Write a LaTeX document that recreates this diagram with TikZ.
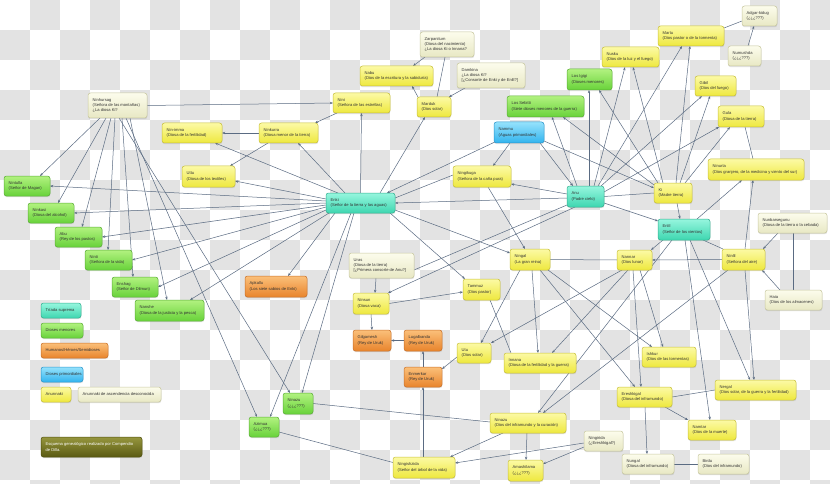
\documentclass[tikz,border=0pt]{standalone}
\usepackage{fontspec}
\setmainfont{Liberation Sans}
\usetikzlibrary{arrows.meta,shadows}
\definecolor{edgec}{HTML}{5A6B82}
\definecolor{txtc}{HTML}{333333}
\definecolor{checkc}{HTML}{E3E3E3}
\pgfdeclarelayer{bg}\pgfdeclarelayer{edges}
\pgfsetlayers{bg,edges,main}
\newcommand\mybox[7]{%
  \pgfmathsetmacro\bw{#5-#3}\pgfmathsetmacro\bh{#6-#4}%
  \node[#2, minimum width=\bw pt, minimum height=\bh pt, anchor=north west] (#1) at (#3,#4) {};
  \node[txt, anchor=west] (#1-t) at ([xshift=4.5pt]#1.west) {#7};}
\begin{document}
\begin{tikzpicture}[x=1pt,y=-1pt,
  gbox/.style={inner sep=0pt, outer sep=0pt, rounded corners=2.5pt, line width=0.5pt,
     drop shadow={opacity=0.22, shadow xshift=0.3pt, shadow yshift=-1.2pt}},
  yel/.style={gbox, draw={rgb,255:red,200;green,192;blue,60}, top color={rgb,255:red,252;green,250;blue,165}, bottom color={rgb,255:red,238;green,232;blue,62}},
  unk/.style={gbox, draw={rgb,255:red,200;green,200;blue,160}, top color={rgb,255:red,252;green,252;blue,236}, bottom color={rgb,255:red,232;green,232;blue,196}},
  grn/.style={gbox, draw={rgb,255:red,92;green,174;blue,56}, top color={rgb,255:red,178;green,242;blue,128}, bottom color={rgb,255:red,104;green,210;blue,58}},
  sup/.style={gbox, draw={rgb,255:red,52;green,176;blue,144}, top color={rgb,255:red,150;green,246;blue,222}, bottom color={rgb,255:red,62;green,214;blue,176}},
  pri/.style={gbox, draw={rgb,255:red,43;green,150;blue,204}, top color={rgb,255:red,150;green,226;blue,252}, bottom color={rgb,255:red,50;green,180;blue,238}},
  hum/.style={gbox, draw={rgb,255:red,200;green,112;blue,42}, top color={rgb,255:red,251;green,192;blue,122}, bottom color={rgb,255:red,232;green,132;blue,44}},
  oli/.style={gbox, draw={rgb,255:red,80;green,80;blue,16}, top color={rgb,255:red,150;green,150;blue,62}, bottom color={rgb,255:red,90;green,90;blue,18}},
  txt/.style={inner sep=0pt, align=left, text=txtc, font=\fontsize{4.1}{5.3}\selectfont},
  arr/.style={draw=edgec, line width=0.5pt, -{Stealth[length=3.2pt,width=2.4pt]}},
  ln/.style={draw=edgec, line width=0.5pt}]
\useasboundingbox (0,0) rectangle (830,484);
\begin{pgfonlayer}{bg}
\fill[white] (0,0) rectangle (830,484);
\clip (0,0) rectangle (830,484);
\foreach \j in {0,2,...,16}{\foreach \i in {1,3,...,27}{\fill[checkc] (\i*30,\j*30) rectangle ++(30,30);}}
\foreach \j in {1,3,...,15}{\foreach \i in {0,2,...,26}{\fill[checkc] (\i*30,\j*30) rectangle ++(30,30);}}
\end{pgfonlayer}
% ---------- nodes ----------
\mybox{ninhursag}{unk}{88}{93}{147}{118}{Ninhursag\\(Señora de las montañas)\\¿La diosa Ki?}
\mybox{nini}{yel}{333}{93}{390}{113}{Nini\\(Señora de las estrellas)}
\mybox{nabu}{yel}{360}{66}{433}{86}{Nabu\\(Dios de la escritura y la sabiduría)}
\mybox{ninimma}{yel}{162}{123}{222}{143}{Nin-imma\\(Diosa de la fertilidad)}
\mybox{ninkurra}{yel}{259}{123}{318}{143}{Ninkurra\\(Diosa menor de la tierra)}
\mybox{zarpanitum}{unk}{420}{32}{474}{57}{Zarpanitum\\(Diosa del nacimiento)\\¿La diosa Ki o Innana?}
\mybox{damkina}{unk}{457}{63}{525}{88}{Damkina\\¿La diosa Ki?\\{[}¿Consorte de Enki y de Enlil?{]}}
\mybox{marduk}{yel}{417}{97}{451}{117}{Marduk\\(Dios solar)}
\mybox{igigi}{grn}{567}{69}{612}{90}{Los Igigi\\(Dioses menores)}
\mybox{sebitti}{grn}{507}{96}{584}{117}{Los Sebitti\\(Siete dioses menores de la guerra)}
\mybox{nammu}{pri}{494}{122}{544}{143}{Nammu\\(Aguas primordiales)}
\mybox{nusku}{yel}{602}{47}{659}{67}{Nusku\\(Dios de la luz y el fuego)}
\mybox{martu}{yel}{658}{26}{724}{46}{Martu\\(Dios pastor o de la tormenta)}
\mybox{adgar}{unk}{742}{6}{777}{26}{Adgar-kidug\\(¿¿¿???)}
\mybox{numushda}{unk}{728}{46}{761}{66}{Numushda\\(¿¿¿???)}
\mybox{gibil}{yel}{695}{76}{736}{96}{Gibil\\(Dios del fuego)}
\mybox{gula}{yel}{718}{106}{764}{127}{Gula\\(Diosa de la tierra)}
\mybox{ninurta}{yel}{708}{159}{804}{180}{Ninurta\\(Dios granjero, de la medicina y viento del sur)}
\mybox{ki}{yel}{654}{183}{692}{203}{Ki\\(Madre tierra)}
\mybox{enlil}{sup}{658}{219}{710}{240}{Enlil\\(Señor de los vientos)}
\mybox{nunbar}{unk}{758}{213}{827}{233}{Nunbarsegunu\\(Diosa de la tierra o la cebada)}
\mybox{ninlil}{yel}{722}{249}{765}{270}{Ninlil\\(Señora del aire)}
\mybox{nannar}{yel}{617}{250}{652}{270}{Nannar\\(Dios lunar)}
\mybox{haia}{unk}{765}{290}{822}{310}{Haia\\(Dios de los almacenes)}
\mybox{anu}{sup}{567}{186}{604}{207}{Anu\\(Padre cielo)}
\mybox{ningikuga}{yel}{453}{166}{511}{187}{Ningikuga\\(Señora de la caña pura)}
\mybox{ningal}{yel}{510}{249}{550}{270}{Ningal\\(La gran reina)}
\mybox{tammuz}{yel}{463}{279}{500}{300}{Tammuz\\(Dios pastor)}
\mybox{enki}{sup}{326}{193}{395}{213}{Enki\\(Señor de la tierra y las aguas)}
\mybox{uttu}{yel}{182}{166}{235}{187}{Uttu\\(Diosa de los textiles)}
\mybox{apkallu}{hum}{245}{276}{307}{297}{Apkallu\\(Los siete sabios de Enki)}
\mybox{uras}{unk}{349}{253}{414}{278}{Uras\\(Diosa de la tierra)\\{[}¿Primera consorte de Anu?{]}}
\mybox{ninsun}{yel}{353}{293}{389}{314}{Ninsun\\(Diosa vaca)}
\mybox{gilgamesh}{hum}{353}{330}{391}{351}{Gilgamesh\\(Rey de Uruk)}
\mybox{lugalbanda}{hum}{404}{330}{442}{351}{Lugalbanda\\(Rey de Uruk)}
\mybox{enmerkar}{hum}{404}{367}{442}{387}{Enmerkar\\(Rey de Uruk)}
\mybox{utu}{yel}{457}{343}{491}{363}{Utu\\(Dios solar)}
\mybox{inanna}{yel}{504}{353}{576}{373}{Innana\\(Diosa de la fertilidad y la guerra)}
\mybox{ninazu}{yel}{490}{413}{566}{433}{Ninazu\\(Dios del inframundo y la curación)}
\mybox{ningishzida}{yel}{393}{457}{455}{478}{Ningishzida\\(Señor del árbol de la vida)}
\mybox{amashilama}{yel}{508}{460}{543}{481}{Amashilama\\(¿¿¿???)}
\mybox{ningirida}{unk}{584}{431}{623}{451}{Ningirida\\(¿Ereshkigal?)}
\mybox{ninazug}{grn}{283}{393}{313}{414}{Ninazu\\(¿¿¿???)}
\mybox{azimua}{grn}{249}{417}{279}{437}{Azimua\\(¿¿¿???)}
\mybox{ereshkigal}{yel}{617}{387}{672}{407}{Ereshkigal\\(Diosa del inframundo)}
\mybox{ishkur}{yel}{642}{347}{696}{367}{Ishkur\\(Dios de las tormentas)}
\mybox{nergal}{yel}{715}{380}{796}{400}{Nergal\\(Dios solar, de la guerra y la fertilidad)}
\mybox{namtar}{yel}{688}{420}{736}{440}{Namtar\\(Dios de la muerte)}
\mybox{nungal}{unk}{622}{454}{674}{474}{Nungal\\(Diosa del inframundo)}
\mybox{birdu}{unk}{698}{454}{749}{474}{Birdu\\(Dios del inframundo)}
\mybox{nintulla}{grn}{4}{176}{50}{196}{Nintulla\\(Señor de Magan)}
\mybox{ninkasi}{grn}{28}{203}{74}{223}{Ninkasi\\(Diosa del alcohol)}
\mybox{abu}{grn}{55}{227}{102}{247}{Abu\\(Rey de los pastos)}
\mybox{ninti}{grn}{85}{250}{132}{270}{Ninti\\(Señora de la vida)}
\mybox{enshag}{grn}{112}{277}{158}{297}{Enshag\\(Señor de Dilmun)}
\mybox{nanshe}{grn}{135}{300}{204}{321}{Nanshe\\(Diosa de la justicia y la pesca)}
% legend
\mybox{lgsup}{sup}{41}{303}{81}{318}{Tríada suprema}
\mybox{lggrn}{grn}{41}{323}{83}{338}{Dioses menores}
\mybox{lghum}{hum}{41}{343}{108}{358}{Humanos/Héroes/Semidioses}
\mybox{lgpri}{pri}{41}{367}{83}{382}{Dioses primordiales}
\mybox{lgyel}{yel}{41}{387}{71}{402}{Anunnaki}
\mybox{lgunk}{unk}{78}{387}{161}{402}{Anunnaki de ascendencia desconocida}
\mybox{credits}{oli}{41}{437}{142}{457}{\textcolor{white}{Esquema genealógico realizado por Compendio}\\\textcolor{white}{de Dilla.}}
% ---------- edges ----------
\begin{pgfonlayer}{edges}
\draw[arr] (ninhursag.east) -- (nini.west);
\draw[arr] ([xshift=4pt]nini.south west) -- ([xshift=-3pt]ninkurra.north east);
\draw[arr] (enki.north) -- (nini.south);
\draw[arr] ([xshift=19pt]enki.north west) -- ([xshift=39pt]ninkurra.south west);
\draw[arr] ([xshift=12pt]enki.north west) -- ([xshift=-7pt]ninimma.south east);
\draw[arr] (ninkurra.west) -- (ninimma.east);
\draw[arr] ([xshift=9pt]ninkurra.south west) -- ([xshift=-5pt]uttu.north east);
\draw[arr] ([yshift=4pt]enki.west) -- ([yshift=-4.5pt]uttu.east);
\draw[arr] ([yshift=2pt]enki.west) -- (nintulla.east);
\draw[arr] (enki.west) -- (ninkasi.east);
\draw[arr] ([yshift=-2pt]enki.west) -- (abu.east);
\draw[arr] ([yshift=-4pt]enki.west) -- (ninti.east);
\draw[arr] ([yshift=-7pt]enki.west) -- (enshag.east);
\draw[arr] ([xshift=3pt]enki.south west) -- ([xshift=-14pt]nanshe.north east);
\draw[arr] ([xshift=12pt]ninhursag.south west) -- ([xshift=36pt]nintulla.north west);
\draw[arr] ([xshift=18pt]ninhursag.south west) -- ([xshift=30pt]ninkasi.north west);
\draw[arr] ([xshift=23pt]ninhursag.south west) -- ([xshift=27pt]abu.north west);
\draw[arr] ([xshift=27pt]ninhursag.south west) -- ([xshift=23pt]ninti.north west);
\draw[arr] ([xshift=31pt]ninhursag.south west) -- ([xshift=7pt]ninazug.north west);
\draw[arr] ([xshift=34pt]ninhursag.south west) -- ([xshift=21pt]enshag.north west);
\draw[arr] ([xshift=38pt]ninhursag.south west) -- ([xshift=8pt]azimua.north west);
\draw[arr] ([xshift=42pt]ninhursag.south west) -- ([xshift=32pt]nanshe.north west);
\draw[arr] ([xshift=25pt]enki.south west) -- ([xshift=21pt]azimua.north west);
\draw[arr] ([xshift=28pt]enki.south west) -- ([xshift=19pt]ninazug.north west);
\draw[arr] ([xshift=9pt]enki.south west) -- ([xshift=43pt]apkallu.north west);
\draw[arr] ([xshift=-15pt]enki.north east) -- ([xshift=8pt]marduk.south west);
\draw[arr] ([xshift=5pt]zarpanitum.south west) -- ([xshift=-20pt]nabu.north east);
\draw[ln] ([xshift=25pt]zarpanitum.south west) -- ([xshift=20pt]marduk.north west);
\draw[arr] ([xshift=8pt]damkina.south west) -- ([xshift=-2pt]marduk.north east);
\draw[arr] ([xshift=1pt]marduk.north west) -- ([xshift=-21pt]nabu.south east);
\draw[ln] ([yshift=-2pt]martu.north east) -- ([yshift=-5pt]adgar.west);
\draw[arr] ([xshift=20pt]numushda.north west) -- ([xshift=12pt]adgar.south west);
\draw[ln] ([xshift=27pt]gula.south west) -- ([xshift=45pt]ninurta.north west);
\draw[arr] ([xshift=22pt]anu.north west) -- ([xshift=22pt]igigi.south west);
\draw[arr] ([xshift=4pt]ki.north west) -- ([xshift=32pt]igigi.south west);
\draw[arr] ([xshift=10pt]anu.north west) -- ([xshift=45pt]sebitti.south west);
\draw[arr] ([yshift=-2pt]ki.north west) -- ([xshift=56pt]sebitti.south west);
\draw[arr] ([xshift=27pt]anu.north west) -- ([xshift=23pt]nusku.south west);
\draw[arr] ([xshift=9pt]ki.north west) -- ([xshift=31pt]nusku.south west);
\draw[arr] ([xshift=31pt]anu.north west) -- ([xshift=24pt]martu.south west);
\draw[arr] ([xshift=22pt]ki.north west) -- ([xshift=32pt]martu.south west);
\draw[arr] ([xshift=-3pt]anu.north east) -- ([xshift=7pt]gibil.south west);
\draw[arr] ([xshift=26pt]ki.north west) -- ([xshift=15pt]gibil.south west);
\draw[arr] ([yshift=-6pt]anu.north east) -- ([xshift=1pt]gula.south west);
\draw[arr] ([xshift=31pt]ki.north west) -- ([xshift=12pt]gula.south west);
\draw[arr] ([xshift=-4pt]nammu.south east) -- ([xshift=6pt]anu.north west);
\draw[arr] ([yshift=2pt]nammu.south east) -- ([yshift=-5pt]ki.north west);
\draw[arr] ([xshift=3pt,yshift=2pt]nammu.south west) -- ([xshift=-8pt]enki.north east);
\draw[arr] ([xshift=16pt]nammu.south west) -- ([xshift=40pt]ningikuga.north west);
\draw[arr] ([yshift=-8pt]anu.north west) -- ([yshift=3pt]ningikuga.south east);
\draw[ln] ([yshift=-5pt]enki.north east) -- ([yshift=-9pt]ningikuga.north west);
\draw[arr] ([yshift=-12pt]anu.north west) -- (enki.east);
\draw[ln] (anu.east) -- (ki.west);
\draw[arr] ([yshift=4pt]anu.south east) -- ([yshift=-2pt]enlil.north west);
\draw[arr] ([xshift=23pt]ki.south west) -- ([xshift=22pt]enlil.north west);
\draw[arr] ([yshift=3pt]enki.south east) -- ([yshift=-4pt]ningal.north west);
\draw[arr] ([xshift=35pt]ningikuga.south west) -- ([xshift=15pt]ningal.north west);
\draw[arr] ([xshift=-5pt]enki.south east) -- ([xshift=2pt]tammuz.north west);
\draw[ln] (ningal.east) -- (nannar.west);
\draw[arr] (ninlil.west) -- (nannar.east);
\draw[arr] ([xshift=5pt]enlil.south west) -- ([xshift=-1pt]nannar.north east);
\draw[ln] ([xshift=-7pt]enlil.south east) -- ([xshift=1pt]ninlil.north west);
\draw[arr] ([xshift=-13pt]enlil.north east) -- ([xshift=34pt]ninurta.south west);
\draw[arr] ([xshift=23pt]ninlil.north west) -- ([xshift=45pt]ninurta.south west);
\draw[arr] ([xshift=20pt]nunbar.south west) -- ([xshift=-2pt]ninlil.north east);
\draw[arr] ([xshift=15pt]haia.north west) -- ([xshift=-3pt]ninlil.south east);
\draw[ln] ([xshift=35pt]nunbar.south west) -- ([xshift=28pt]haia.north west);
\draw[ln] ([yshift=2pt]anu.south west) -- ([yshift=8pt]uras.south east);
\draw[arr] ([xshift=8pt]anu.south west) -- ([xshift=-1pt]ninsun.north east);
\draw[arr] ([xshift=27pt]uras.south west) -- ([xshift=22pt]ninsun.north west);
\draw[arr] (ninsun.east) -- ([yshift=-2.5pt]tammuz.west);
\draw[arr] (ninsun.south) -- (gilgamesh.north);
\draw[arr] (lugalbanda.west) -- (gilgamesh.east);
\draw[arr] (enmerkar.north) -- (lugalbanda.south);
\draw[arr] ([xshift=30pt]ningishzida.north west) -- (enmerkar.south);
\draw[arr] ([yshift=6pt]utu.south west) -- ([yshift=-2pt]enmerkar.north east);
\draw[arr] ([xshift=10pt]ningal.south west) -- ([xshift=24pt]utu.north west);
\draw[arr] ([xshift=5pt]nannar.south west) -- (utu.north east);
\draw[arr] ([xshift=22pt]ningal.south west) -- ([xshift=34pt]inanna.north west);
\draw[arr] ([xshift=11pt]nannar.south west) -- ([xshift=48pt]inanna.north west);
\draw[arr] ([xshift=-10pt]ningal.south east) -- ([xshift=18pt]ereshkigal.north west);
\draw[arr] ([xshift=16pt]nannar.south west) -- ([xshift=24pt]ereshkigal.north west);
\draw[arr] ([xshift=-2pt]ningal.south east) -- ([xshift=10pt]ishkur.north west);
\draw[arr] ([xshift=-12pt]nannar.south east) -- ([xshift=21pt]ishkur.north west);
\draw[ln] ([xshift=27pt]tammuz.south west) -- ([xshift=7pt]inanna.north west);
\draw[arr] ([xshift=27pt]enlil.south west) -- ([xshift=22pt]namtar.north west);
\draw[arr] ([xshift=32pt]enlil.south west) -- ([xshift=35pt]nergal.north west);
\draw[arr] ([xshift=23pt]ninlil.south west) -- ([xshift=39pt]nergal.north west);
\draw[ln] (ereshkigal.east) -- (nergal.west);
\draw[arr] ([xshift=-7pt]ereshkigal.south east) -- (namtar.north west);
\draw[arr] ([xshift=28pt]ereshkigal.south west) -- ([xshift=25pt]nungal.north west);
\draw[ln] (nungal.east) -- (birdu.west);
\draw[arr] ([xshift=6pt]ninlil.south west) -- ([xshift=53pt]ninazu.north west);
\draw[arr] ([xshift=14pt]enlil.south west) -- ([xshift=48pt]ninazu.north west);
\draw[arr] ([xshift=13pt]ninazu.south west) -- ([xshift=-5pt]ningishzida.north east);
\draw[arr] ([xshift=37pt]ninazu.south west) -- ([xshift=18pt]amashilama.north west);
\draw[arr] ([yshift=4pt]ningirida.south west) -- ([yshift=-4pt]amashilama.north east);
\draw[arr] ([yshift=8pt]ningirida.south west) -- ([yshift=-6pt]ningishzida.north east);
\draw[ln] (ninazug.east) -- ([yshift=1pt]ninazu.west);
\draw[ln] ([yshift=-5pt]azimua.east) -- ([yshift=5pt]ningishzida.west);
\end{pgfonlayer}
\end{tikzpicture}
\end{document}
